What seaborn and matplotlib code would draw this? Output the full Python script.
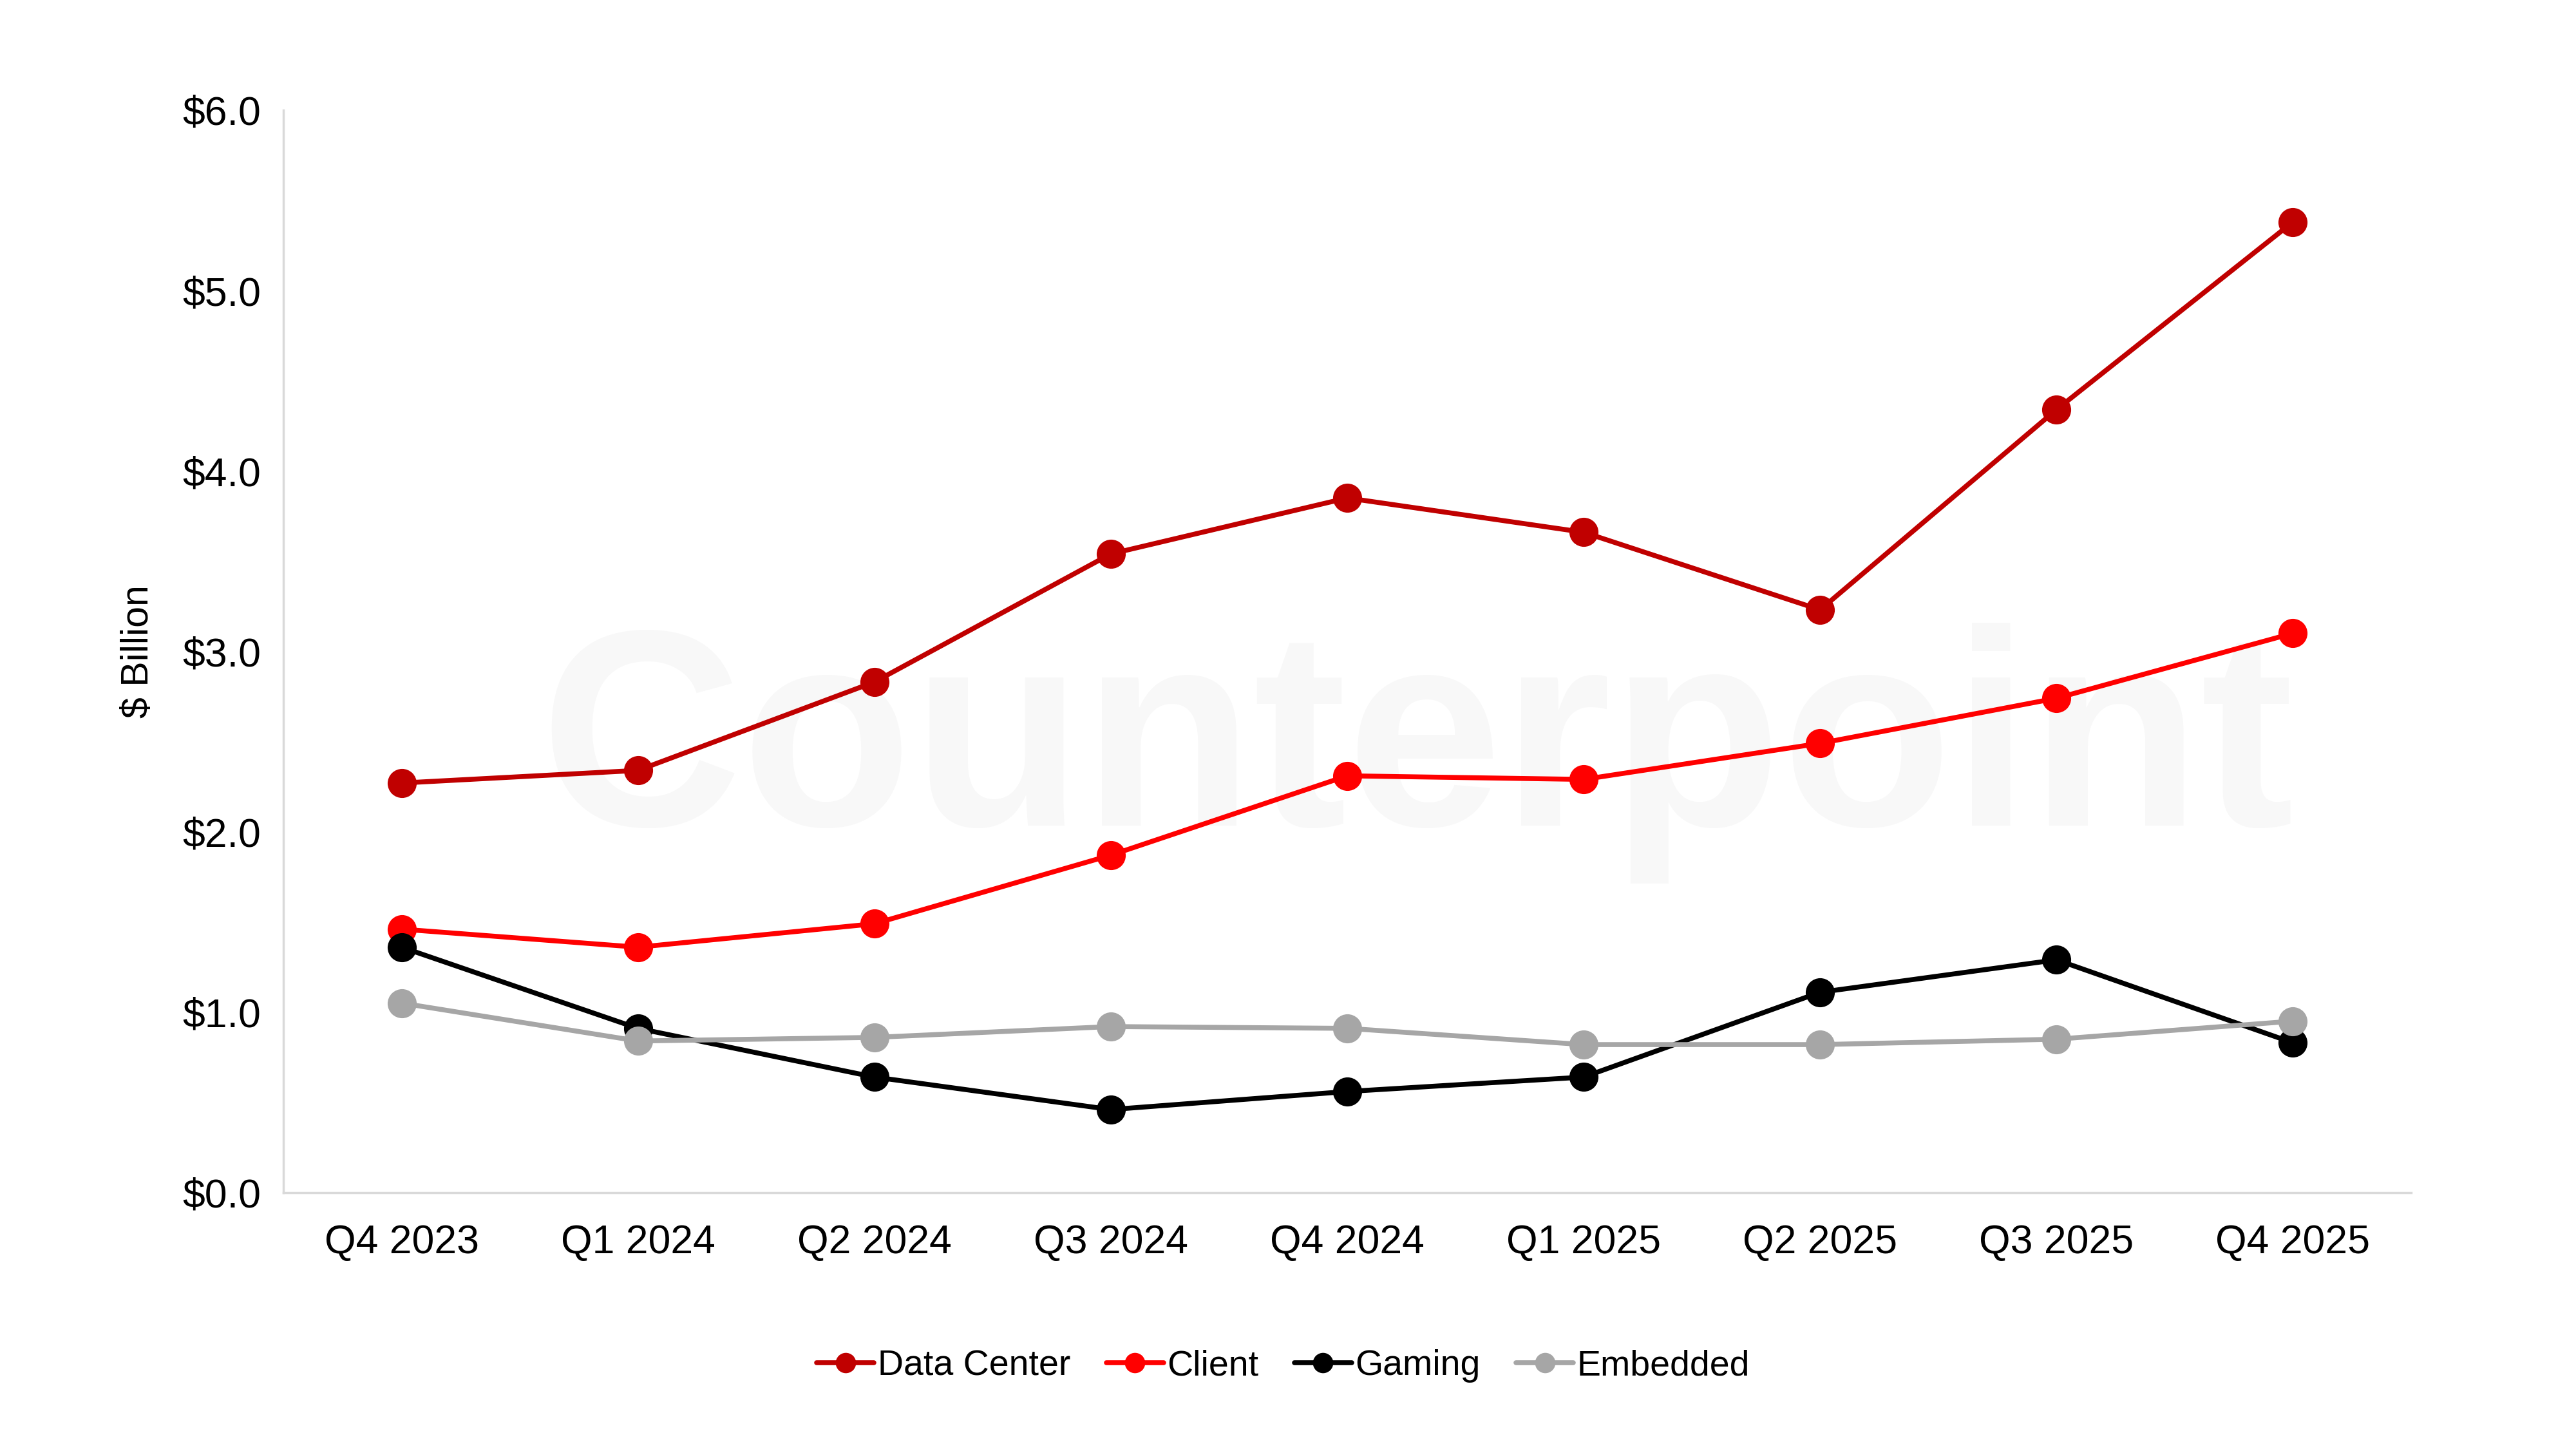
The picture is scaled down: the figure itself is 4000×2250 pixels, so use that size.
import matplotlib
matplotlib.use("Agg")
import matplotlib.pyplot as plt
import seaborn as sns
import pandas as pd

quarters = ["Q4 2023","Q1 2024","Q2 2024","Q3 2024","Q4 2024","Q1 2025","Q2 2025","Q3 2025","Q4 2025"]
data_center = [2.27,2.34,2.83,3.54,3.85,3.66,3.23,4.34,5.38]
client = [1.46,1.36,1.49,1.87,2.31,2.29,2.49,2.74,3.10]
gaming = [1.36,0.91,0.64,0.46,0.56,0.64,1.11,1.29,0.83]
embedded = [1.05,0.84,0.86,0.92,0.91,0.82,0.82,0.85,0.95]
series = {"Data Center": data_center, "Client": client, "Gaming": gaming, "Embedded": embedded}
colors = {"Data Center": "#C00000", "Client": "#FF0000", "Gaming": "#000000", "Embedded": "#A6A6A6"}

rows = []
for name, vals in series.items():
    for q, v in zip(quarters, vals):
        rows.append({"Quarter": q, "Segment": name, "Value": v})
df = pd.DataFrame(rows)

sns.set_theme(style="white")
plt.rcParams['font.family'] = ['Liberation Sans', 'DejaVu Sans']
plt.rcParams['text.color'] = 'black'
plt.rcParams['xtick.color'] = 'black'
plt.rcParams['ytick.color'] = 'black'
plt.rcParams['axes.labelcolor'] = 'black'

fig = plt.figure(figsize=(16, 9), dpi=250)
bg = fig.add_axes([0, 0, 1, 1], zorder=0)
bg.axis("off")
bg.text(0.55, 0.48, "Counterpoint", fontsize=125, fontweight="bold", color="#f8f8f8",
        ha="center", va="center", transform=bg.transAxes)

ax = fig.add_axes([0.11, 0.177, 0.826, 0.747], zorder=1)
ax.set_facecolor("none")

sns.lineplot(data=df, x="Quarter", y="Value", hue="Segment", palette=colors,
             marker="o", markersize=13, linewidth=2.2, markeredgewidth=0,
             sort=False, ax=ax)

ax.set_ylim(0, 6)
ax.set_yticks([0,1,2,3,4,5,6])
ax.set_yticklabels([f"${v:.1f}" for v in range(7)])
ax.set_xlim(-0.5, len(quarters)-0.5)
ax.set_xlabel("")
ax.set_ylabel("$ Billion", fontsize=17, labelpad=12)
ax.tick_params(axis="both", labelsize=18, length=0, pad=10)
ax.tick_params(axis="x", pad=14)
for s in ["top","right"]:
    ax.spines[s].set_visible(False)
for s in ["left","bottom"]:
    ax.spines[s].set_color("#D9D9D9")
    ax.spines[s].set_linewidth(1)

ax.legend(loc="upper center", bbox_to_anchor=(0.47, -0.115), ncol=4, frameon=False,
          fontsize=16, handlelength=1.6, handletextpad=0.1, columnspacing=1.0,
          markerscale=0.7)

fig.savefig("out.png", dpi=250)
